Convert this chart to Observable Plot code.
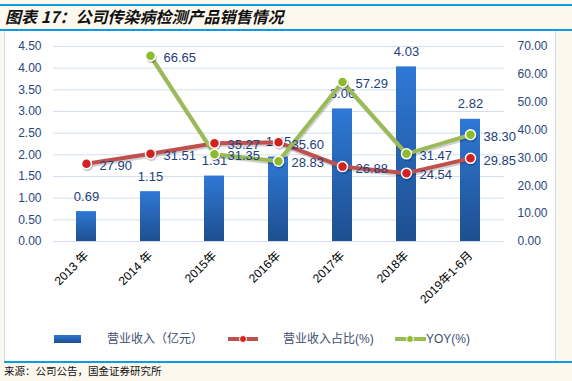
<!DOCTYPE html>
<html><head><meta charset="utf-8">
<script src="https://cdn.jsdelivr.net/npm/d3@7"></script>
<script src="https://cdn.jsdelivr.net/npm/@observablehq/plot@0.6"></script>
<style>
body{margin:0;width:572px;height:381px;background:#fdf8ee;position:relative;overflow:hidden;font-family:"Liberation Sans","Noto Sans CJK SC",sans-serif;}
.bl{position:absolute;background:#0f9be3;height:2px;}
#title{position:absolute;left:5px;top:5px;font:italic bold 16px "Noto Sans CJK SC",sans-serif;color:#111;line-height:22px;white-space:nowrap;}
#panel{position:absolute;left:4px;top:31px;width:550px;height:330px;background:#fff;border-left:1px solid #c9dbf0;border-right:1px solid #c9dbf0;}
#chart{position:absolute;left:0;top:31px;}
.lg{position:absolute;font-size:12px;color:#3e4d70;line-height:14px;white-space:nowrap;}
#source{position:absolute;left:4px;top:364px;font:10.5px "Noto Sans CJK SC",sans-serif;color:#111;line-height:14px;white-space:nowrap;}
</style></head>
<body>
<div class="bl" style="left:0;top:4px;width:572px"></div>
<div id="title">图表 17：公司传染病检测产品销售情况</div>
<div class="bl" style="left:0;top:29px;width:572px"></div>
<div id="panel"></div>
<div id="chart"></div>
<div id="legend"></div>
<div class="bl" style="left:4px;top:361px;width:568px"></div>
<div id="source">来源：公司公告，国金证券研究所</div>
<script>
const categories = ["2013 年","2014 年","2015年","2016年","2017年","2018年","2019年1-6月"];
const revenue = [0.69,1.15,1.51,1.95,3.06,4.03,2.82];
const revenueShare = [27.90,31.51,35.27,35.60,26.88,24.54,29.85];
const yoy = [null,66.65,31.35,28.83,57.29,31.47,38.30];
const leftTicks = [0,0.5,1,1.5,2,2.5,3,3.5,4,4.5];
const rightTicks = [0,10,20,30,40,50,60,70];
const legendLabels = ["营业收入（亿元）","营业收入占比(%)","YOY(%)"];

const K = 4.5/70;
const rows = categories.map((c,i)=>({cat:c, rev:revenue[i], share:revenueShare[i], yoy:yoy[i]}));
const yoyRows = rows.filter(d=>d.yoy!=null);
const labelColor = "#22407a";
const tickColor = "#2a477c";
const redLine = "#c0504d", redDot="#d42020";
const greenLine = "#9bbb59", greenDot="#8dbb2c";

const plot = Plot.plot({
  width:572, height:300,
  marginTop:15, marginBottom:90, marginLeft:53, marginRight:68,
  style:{background:"transparent", fontFamily:"'Liberation Sans','Noto Sans CJK SC',sans-serif", overflow:"visible"},
  x:{domain:categories, paddingInner:0.68, paddingOuter:0.34, label:null},
  y:{domain:[0,4.5], label:null},
  marks:[
    Plot.gridY(leftTicks,{stroke:"#d3dfee", strokeOpacity:1, strokeWidth:1}),
    Plot.axisY(leftTicks,{anchor:"left", tickSize:0, tickPadding:12, tickFormat:d=>d.toFixed(2), fontSize:12, fill:tickColor, label:null}),
    Plot.axisY(rightTicks.map(v=>v*K),{anchor:"right", tickSize:0, tickPadding:13, tickFormat:d=>(d/K).toFixed(2), fontSize:12, fill:tickColor, label:null}),
    Plot.axisX({tickRotate:-45, tickSize:0, tickPadding:12, fontSize:12, fill:"#000", label:null}),
    Plot.barY(rows,{x:"cat", y:"rev", fill:"url(#barGrad)"}),
    Plot.text(rows,{x:"cat", y:"rev", text:d=>d.rev.toFixed(2), dy:-15, fontSize:13, fill:labelColor}),
    // share line (with shadow)
    Plot.line(rows,{x:"cat", y:d=>d.share*K, stroke:"#000", strokeOpacity:0.18, strokeWidth:4, dx:1, dy:2}),
    Plot.line(rows,{x:"cat", y:d=>d.share*K, stroke:redLine, strokeWidth:4}),
    // yoy line
    Plot.line(yoyRows,{x:"cat", y:d=>d.yoy*K, stroke:"#000", strokeOpacity:0.18, strokeWidth:4, dx:1, dy:2}),
    Plot.line(yoyRows,{x:"cat", y:d=>d.yoy*K, stroke:greenLine, strokeWidth:4}),
    Plot.dot(rows,{x:"cat", y:d=>d.share*K, r:5.5, fill:"#000", fillOpacity:0.2, dx:1, dy:2}),
    Plot.dot(rows,{x:"cat", y:d=>d.share*K, r:5, fill:redDot, stroke:"#fff", strokeWidth:1.5}),
    Plot.dot(yoyRows,{x:"cat", y:d=>d.yoy*K, r:5.5, fill:"#000", fillOpacity:0.2, dx:1, dy:2}),
    Plot.dot(yoyRows,{x:"cat", y:d=>d.yoy*K, r:5, fill:greenDot, stroke:"#fff", strokeWidth:1.5}),
    Plot.text(rows,{x:"cat", y:d=>d.share*K, text:d=>d.share.toFixed(2), textAnchor:"start", dx:13, dy:2, fontSize:13, fill:labelColor}),
    Plot.text(yoyRows,{x:"cat", y:d=>d.yoy*K, text:d=>d.yoy.toFixed(2), textAnchor:"start", dx:13, dy:2, fontSize:13, fill:labelColor})
  ]
});
const ns="http://www.w3.org/2000/svg";
const defs=document.createElementNS(ns,"defs");
defs.innerHTML='<linearGradient id="barGrad" x1="0" y1="0" x2="0" y2="1"><stop offset="0" stop-color="#2f78d6"/><stop offset="1" stop-color="#1e4f8f"/></linearGradient>';
plot.insertBefore(defs, plot.firstChild);
document.getElementById("chart").appendChild(plot);

// legend
const lg=document.getElementById("legend");
function el(style, cls, text){const d=document.createElement("div"); if(cls) d.className=cls; d.setAttribute("style",style); if(text) d.textContent=text; lg.appendChild(d); return d;}
el("position:absolute;left:54px;top:335px;width:27px;height:8px;background:linear-gradient(#2f78d6,#1e4f8f)");
el("left:107px;top:332px","lg",legendLabels[0]);
el("position:absolute;left:228px;top:337px;width:30px;height:4px;background:"+redLine);
el("position:absolute;left:239px;top:335px;width:6px;height:6px;border-radius:50%;background:"+redDot+";border:1px solid #fff");
el("left:283px;top:332px","lg",legendLabels[1]);
el("position:absolute;left:395px;top:337px;width:31px;height:4px;background:"+greenLine);
el("position:absolute;left:406px;top:335px;width:6px;height:6px;border-radius:50%;background:"+greenDot+";border:1px solid #fff");
el("left:426px;top:332px","lg",legendLabels[2]);
</script>
</body></html>
